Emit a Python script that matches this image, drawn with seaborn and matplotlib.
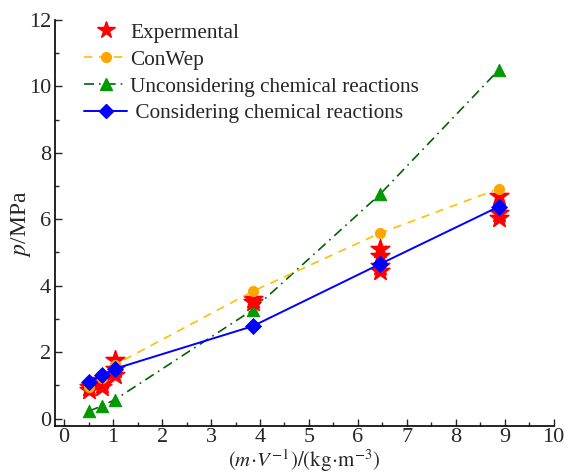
import numpy as np
import pandas as pd
import matplotlib.pyplot as plt
import seaborn as sns
from matplotlib.ticker import MultipleLocator
from matplotlib.lines import Line2D

# x positions: charge density m/V (kg/m^3)
density = [0.5, 0.77, 1.04, 3.85, 6.45, 8.88]

conwep = [0.95, 1.22, 1.62, 3.83, 5.58, 6.92]
uncons = [0.22, 0.38, 0.57, 3.27, 6.75, 10.5]
cons = [1.1, 1.3, 1.5, 2.78, 4.65, 6.38]

# experimental: several shots per density
exp_x = [0.5, 0.5, 0.77, 0.77, 0.77, 1.04, 1.04, 1.04,
         3.85, 3.85, 6.45, 6.45, 6.45, 6.45, 8.88, 8.88, 8.88]
exp_p = [0.85, 0.95, 0.95, 1.05, 1.15, 1.3, 1.5, 1.75,
         3.5, 3.6, 4.45, 4.6, 4.9, 5.1, 6.05, 6.2, 6.7]

sns.set_style("ticks")
plt.rcParams["font.family"] = ["Liberation Serif", "DejaVu Serif"]
plt.rcParams["mathtext.fontset"] = "stix"

df = pd.DataFrame({"x": density, "conwep": conwep, "uncons": uncons, "cons": cons})
df_exp = pd.DataFrame({"x": exp_x, "p": exp_p})

fig = plt.figure(figsize=(5.65, 4.76), dpi=100)
ax = fig.add_axes([0.098, 0.104, 0.882, 0.854])

sns.lineplot(data=df, x="x", y="uncons", ax=ax, color="#006400", lw=1.2,
             linestyle=(0, (6, 3, 1, 3)), zorder=2)
sns.scatterplot(data=df, x="x", y="uncons", ax=ax, color="#009900", marker="^",
                s=80, edgecolor="#009900", zorder=3)
sns.scatterplot(data=df_exp, x="x", y="p", ax=ax, color="#FF0000", marker="*",
                s=200, edgecolor="#FF0000", zorder=4)
sns.lineplot(data=df, x="x", y="conwep", ax=ax, color="#FFC000", lw=1.2,
             linestyle=(0, (5, 4)), zorder=5)
sns.scatterplot(data=df, x="x", y="conwep", ax=ax, color="#FFA500", marker="o",
                s=55, edgecolor="#FFA500", zorder=6)
sns.lineplot(data=df, x="x", y="cons", ax=ax, color="#0000FF", lw=1.4, zorder=7)
sns.scatterplot(data=df, x="x", y="cons", ax=ax, color="#0000FF", marker="D",
                s=65, edgecolor="#0000FF", zorder=8)

ax.set_xlim(-0.18, 10)
ax.set_ylim(-0.24, 12)
ax.xaxis.set_major_locator(MultipleLocator(1))
ax.xaxis.set_minor_locator(MultipleLocator(0.5))
ax.yaxis.set_major_locator(MultipleLocator(2))
ax.yaxis.set_minor_locator(MultipleLocator(1))
ax.tick_params(which="major", direction="in", length=5, width=1, labelsize=16, pad=3)
ax.tick_params(axis="x", which="major", pad=1)
ax.tick_params(which="minor", direction="in", length=3, width=1)
sns.despine(ax=ax)
for s in ["left", "bottom"]:
    ax.spines[s].set_linewidth(1.2)
    ax.spines[s].set_color("black")

ax.set_xlabel(r"$(m\!\cdot\!V^{-1})/(\mathrm{kg}\!\cdot\!\mathrm{m}^{-3})$", fontsize=15, labelpad=0.5)
ax.set_ylabel(r"$p$/MPa", fontsize=17)
ax.yaxis.set_label_coords(-0.045, 0.5)

handles = [
    Line2D([], [], color="#FF0000", marker="*", ms=13, linestyle="none"),
    Line2D([], [], color="#FFC000", marker="o", ms=7, mfc="#FFA500", mec="#FFA500",
           linestyle=(0, (5, 4)), lw=1.2),
    Line2D([], [], color="#006400", marker="^", ms=9, mfc="#009900", mec="#009900",
           linestyle=(0, (6, 3, 1, 3)), lw=1.2),
    Line2D([], [], color="#0000FF", marker="D", ms=7, lw=1.4),
]
labels = ["Expermental", "ConWep", "Unconsidering chemical reactions",
          " Considering chemical reactions"]
ax.legend(handles, labels, loc="upper left", bbox_to_anchor=(0.02, 1.04),
          frameon=False, fontsize=15.3, handlelength=2.0, handletextpad=0.15,
          labelspacing=0.33)

fig.savefig("out.png", dpi=100)
